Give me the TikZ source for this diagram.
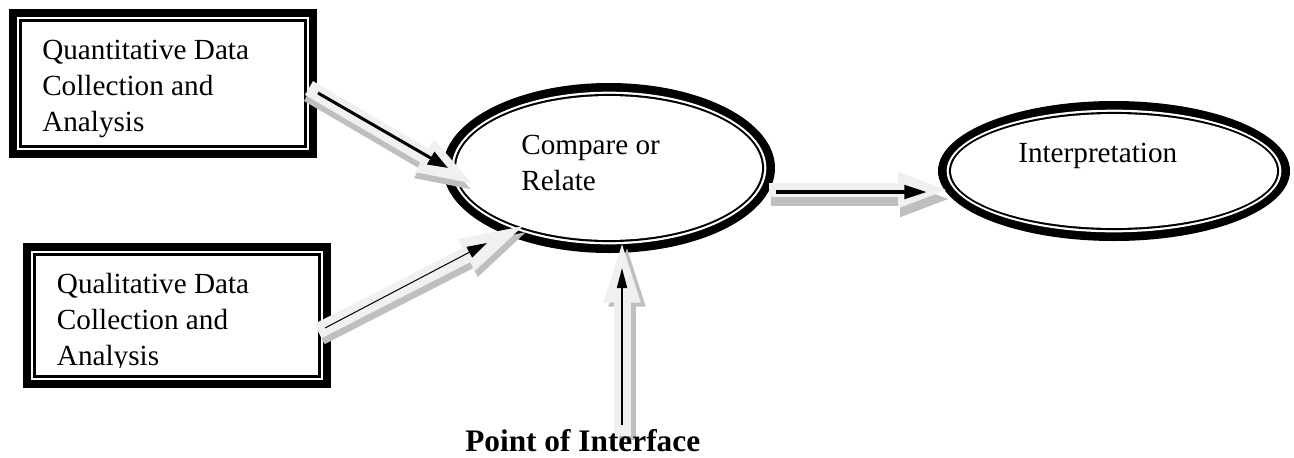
\documentclass[tikz,border=0pt]{standalone}
\usepackage{fontspec}
\setmainfont{Liberation Serif}
\usetikzlibrary{shapes.geometric,arrows.meta}
\definecolor{arrlight}{HTML}{F0F0F0}
\definecolor{arrshade}{HTML}{BFBFBF}
\tikzset{
  boxtext/.style={inner sep=0pt, align=left, anchor=base west, font=\fontsize{21.9pt}{27pt}\selectfont},
  lighta/.style={draw=arrlight, line width=#1},
  shadea/.style={draw=arrshade, line width=#1},
}
\newcommand\ringbox[1]{%
  \fill[black] (#1.south west) rectangle (#1.north east);
  \fill[white] ([shift={(6pt,6pt)}]#1.south west) rectangle ([shift={(-6pt,-6pt)}]#1.north east);
  \fill[black] ([shift={(7.9pt,7.9pt)}]#1.south west) rectangle ([shift={(-7.9pt,-7.9pt)}]#1.north east);
  \fill[white] ([shift={(9.8pt,9.8pt)}]#1.south west) rectangle ([shift={(-9.8pt,-9.8pt)}]#1.north east);
}
\newcommand\ringell[3]{% node, x radius, y radius (pt)
  \fill[black] (#1.center) ellipse [x radius=#2pt, y radius=#3pt];
  \fill[white] (#1.center) ellipse [x radius=#2pt-6.5pt, y radius=#3pt-6.5pt];
  \fill[black] (#1.center) ellipse [x radius=#2pt-8.2pt, y radius=#3pt-8.2pt];
  \fill[white] (#1.center) ellipse [x radius=#2pt-9.8pt, y radius=#3pt-9.8pt];
}
\begin{document}
\begin{tikzpicture}[x=0.75pt,y=-0.75pt]
\useasboundingbox (0,0) rectangle (1294,457);
% boxes
\node[rectangle, inner sep=0pt, minimum width=231pt, minimum height=111.75pt] (quan) at (163,83.5) {};
\node[rectangle, inner sep=0pt, minimum width=231pt, minimum height=108.75pt] (qual) at (177,315.5) {};
\ringbox{quan}
\ringbox{qual}
% ellipses
\node[ellipse, inner sep=0pt, minimum width=249pt, minimum height=127.5pt] (cmp) at (609,168) {};
\node[ellipse, inner sep=0pt, minimum width=264pt, minimum height=105pt] (int) at (1114,171) {};
\ringell{cmp}{124.5}{63.75}
\ringell{int}{132}{52.5}
% arrow coordinates
\coordinate (q1s) at (309,88);   \coordinate (q1e) at (478,187);
\coordinate (q1bs) at (318,93);  \coordinate (q1be) at (448,168);
\coordinate (q2s) at (318,331);  \coordinate (q2e) at (533,221);
\coordinate (q2bs) at (325,328); \coordinate (q2be) at (487,243);
\coordinate (hs) at (769,190);   \coordinate (he) at (950,190);
\coordinate (hbs) at (776,192);  \coordinate (hbe) at (927,192);
\coordinate (vs) at (622,436);   \coordinate (ve) at (622,232);
\coordinate (vbs) at (622,425);  \coordinate (vbe) at (622,268);
% shadows
\draw[shadea=12pt, -{Triangle[length=46.5pt,width=24pt]}, transform canvas={shift={(-0.75pt,-4.5pt)}}] (q1s) -- (q1e);
\draw[shadea=12pt, -{Triangle[length=56pt,width=22.5pt]}, transform canvas={shift={(2.25pt,-4.5pt)}}] (q2s) -- (q2e);
\draw[shadea=11pt, -{Triangle[length=39pt,width=24pt]}, transform canvas={shift={(1.5pt,-6.75pt)}}] (hs) -- (he);
\draw[shadea=12.75pt, -{Triangle[length=53pt,width=23pt]}, transform canvas={shift={(3.75pt,-3pt)}}] (vs) -- (ve);
% light arrows
\draw[lighta=12pt, -{Triangle[length=46.5pt,width=24pt]}] (q1s) -- (q1e);
\draw[lighta=12pt, -{Triangle[length=56pt,width=22.5pt]}] (q2s) -- (q2e);
\draw[lighta=11pt, -{Triangle[length=39pt,width=24pt]}] (hs) -- (he);
\draw[lighta=12.75pt, -{Triangle[length=53pt,width=23pt]}] (vs) -- (ve);
% black arrows
\draw[line width=2.25pt, -{Triangle[length=15pt,width=10.5pt]}] (q1bs) -- (q1be);
\draw[line width=0.75pt, -{Triangle[length=15pt,width=9pt]}] (q2bs) -- (q2be);
\draw[line width=3pt, -{Triangle[length=17pt,width=10pt]}] (hbs) -- (hbe);
\draw[line width=1.5pt, -{Triangle[length=15pt,width=7.5pt]}] (vbs) -- (vbe);
% texts
\node[boxtext] (tquan) at (42,131.7) {Quantitative Data\\Collection and\\Analysis};
\begin{scope}
\clip ([shift={(10pt,10pt)}]qual.south west) rectangle ([shift={(-10pt,-10pt)}]qual.north east);
\clip (0,0) rectangle (1294,367.5);
\node[boxtext] (tqual) at (56.7,365) {Qualitative Data\\Collection and\\Analysis};
\end{scope}
\node[boxtext, font=\fontsize{21.9pt}{26.8pt}\selectfont] (tcmp) at (521,190) {Compare or\\Relate};
\node[boxtext] (tint) at (1018,162) {Interpretation};
\node[boxtext, font=\fontsize{23.5pt}{27pt}\selectfont\bfseries] (tpoi) at (465,451.7) {Point of Interface};
\end{tikzpicture}
\end{document}
